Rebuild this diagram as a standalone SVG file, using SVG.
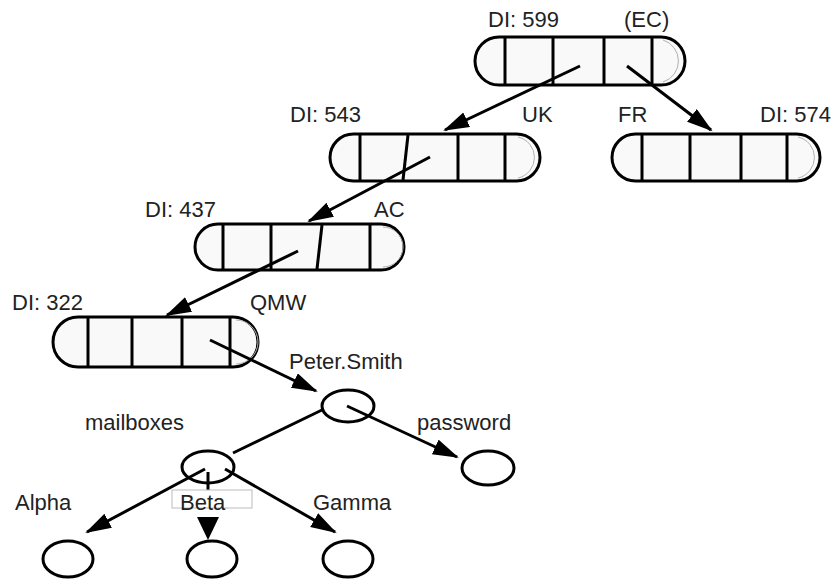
<svg xmlns="http://www.w3.org/2000/svg" width="835" height="580" viewBox="0 0 835 580">
<style>
.box{fill:#f9f9f9;stroke:#000;stroke-width:3}
.div{stroke:#000;stroke-width:3}
.sh{fill:none;stroke:#b0b0b0;stroke-width:1}
.ell{fill:#fff;stroke:#000;stroke-width:3}
.con{stroke:#000;stroke-width:3;fill:none}
.arr{marker-end:url(#ah)}
text{font-family:"Liberation Sans",Arial,sans-serif;font-size:22px;fill:#222}
</style>
<defs>
<marker id="ah" markerUnits="userSpaceOnUse" markerWidth="28" markerHeight="18" refX="24" refY="8" orient="auto">
<path d="M0,0 L26,8 L0,16 z" fill="#000"/>
</marker>
</defs>
<rect width="835" height="580" fill="#fff"/>
<g id="n599">
<rect class="box" x="475" y="37" width="210" height="48" rx="24"/>
<path class="sh" d="M663,40 A22,22 0 0 1 663,82"/>
<line class="div" x1="505" y1="38" x2="505" y2="84"/>
<line class="div" x1="553" y1="38" x2="553" y2="84"/>
<line class="div" x1="604" y1="38" x2="604" y2="84"/>
<line class="div" x1="652" y1="38" x2="652" y2="84"/>
<text x="488" y="27">DI: 599</text>
<text x="624" y="27">(EC)</text>
</g>
<g id="n543">
<rect class="box" x="330" y="134" width="210" height="47" rx="23.5"/>
<path class="sh" d="M518,137 A21,21 0 0 1 518,178"/>
<line class="div" x1="360" y1="135" x2="360" y2="180"/>
<line class="div" x1="408" y1="135" x2="403" y2="180"/>
<line class="div" x1="458" y1="135" x2="458" y2="180"/>
<line class="div" x1="505" y1="135" x2="505" y2="180"/>
<text x="290" y="122">DI: 543</text>
<text x="522" y="122">UK</text>
</g>
<g id="n574">
<rect class="box" x="612" y="134" width="208" height="47" rx="23.5"/>
<path class="sh" d="M798,137 A21,21 0 0 1 798,178"/>
<line class="div" x1="642" y1="135" x2="642" y2="180"/>
<line class="div" x1="690" y1="135" x2="690" y2="180"/>
<line class="div" x1="741" y1="135" x2="741" y2="180"/>
<line class="div" x1="787" y1="135" x2="787" y2="180"/>
<text x="618" y="122">FR</text>
<text x="760" y="122">DI: 574</text>
</g>
<g id="n437">
<rect class="box" x="195" y="224" width="209" height="46" rx="23"/>
<path class="sh" d="M383,227 A20,20 0 0 1 383,267"/>
<line class="div" x1="223" y1="225" x2="223" y2="269"/>
<line class="div" x1="271" y1="225" x2="271" y2="269"/>
<line class="div" x1="322" y1="225" x2="317" y2="269"/>
<line class="div" x1="370" y1="225" x2="370" y2="269"/>
<text x="145" y="217">DI: 437</text>
<text x="374" y="217">AC</text>
</g>
<g id="n322">
<rect class="box" x="53" y="317" width="205" height="50" rx="25"/>
<path class="sh" d="M236,320 A22,22 0 0 1 236,364"/>
<line class="div" x1="88" y1="318" x2="88" y2="366"/>
<line class="div" x1="132" y1="318" x2="132" y2="366"/>
<line class="div" x1="182" y1="318" x2="182" y2="366"/>
<line class="div" x1="230" y1="318" x2="230" y2="366"/>
<text x="12" y="310">DI: 322</text>
<text x="250" y="310">QMW</text>
</g>
<g id="peter">
<ellipse class="ell" cx="348" cy="406" rx="26" ry="16"/>
<text x="289" y="369">Peter.Smith</text>
</g>
<g id="mailboxes">
<ellipse class="ell" cx="208" cy="467" rx="26" ry="16"/>
<text x="85" y="430">mailboxes</text>
</g>
<g id="password">
<ellipse class="ell" cx="488" cy="468" rx="26" ry="17"/>
<text x="417" y="430">password</text>
</g>
<g id="alpha">
<ellipse class="ell" cx="68" cy="559" rx="25" ry="18"/>
<text x="15" y="510">Alpha</text>
</g>
<g id="beta">
<ellipse class="ell" cx="212" cy="559" rx="25" ry="18"/>
</g>
<g id="gamma">
<ellipse class="ell" cx="348" cy="559" rx="25" ry="18"/>
<text x="313" y="510">Gamma</text>
</g>
<g id="connectors">
<line class="con arr" x1="580" y1="66" x2="445" y2="130"/>
<line class="con arr" x1="627" y1="66" x2="711" y2="130"/>
<line class="con arr" x1="430" y1="157" x2="309" y2="221"/>
<line class="con arr" x1="298" y1="251" x2="167" y2="315"/>
<line class="con arr" x1="210" y1="340" x2="316" y2="391"/>
<line class="con" x1="324" y1="409" x2="233" y2="453"/>
<line class="con arr" x1="347" y1="406" x2="457" y2="457"/>
<line class="con arr" x1="205" y1="469" x2="87" y2="532"/>
<line class="con" x1="208" y1="472" x2="208" y2="492"/>
<path d="M197,517 L219,517 L208,540 z" fill="#000"/>
<line class="con arr" x1="225" y1="469" x2="335" y2="532"/>
</g>
<g id="beta-label">
<rect x="172" y="490" width="80" height="18" fill="#fff" stroke="#bbb" stroke-width="1"/>
<text x="180" y="510">Beta</text>
</g>
</svg>
